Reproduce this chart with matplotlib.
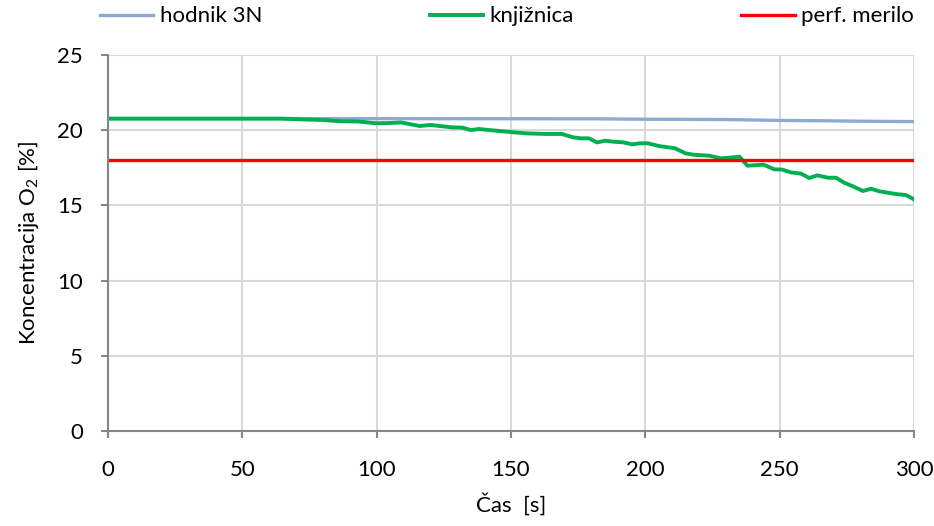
import matplotlib
matplotlib.use("Agg")
import matplotlib.pyplot as plt

plt.rcParams['font.family'] = ['Lato', 'DejaVu Sans']
plt.rcParams['mathtext.fontset'] = 'custom'
plt.rcParams['mathtext.rm'] = 'Lato'
plt.rcParams['mathtext.it'] = 'Lato'

# hodnik 3N
cas_hodnik = [0, 100, 180, 200, 230, 240, 250, 265, 280, 300]
o2_hodnik = [20.77, 20.77, 20.76, 20.73, 20.71, 20.68, 20.65, 20.63, 20.6, 20.57]

# knjiznica
cas_knj = [0, 65, 72, 80, 86, 93, 100, 105, 109, 116, 120, 128, 132, 135, 138, 142,
           151, 156, 163, 169, 173, 176, 179, 182, 185, 188, 192, 195, 198, 201,
           205, 211, 215, 218, 224, 228, 231, 235, 238, 244, 248, 251, 254, 258,
           261, 264, 268, 271, 274, 277, 281, 284, 287, 290, 294, 297, 300]
o2_knj = [20.77, 20.77, 20.72, 20.68, 20.6, 20.58, 20.46, 20.48, 20.52, 20.28, 20.35,
          20.19, 20.17, 20.01, 20.08, 20.01, 19.86, 19.79, 19.75, 19.75, 19.53, 19.46,
          19.46, 19.19, 19.3, 19.24, 19.19, 19.06, 19.13, 19.13, 18.95, 18.8, 18.46,
          18.37, 18.3, 18.13, 18.17, 18.24, 17.64, 17.71, 17.4, 17.38, 17.2, 17.11,
          16.82, 17.0, 16.84, 16.84, 16.51, 16.29, 15.96, 16.11, 15.94, 15.85, 15.74,
          15.69, 15.4]

# perf. merilo
cas_meja = [0, 300]
o2_meja = [18, 18]

fig = plt.figure(figsize=(9.34, 5.26), dpi=100)
ax = fig.add_axes([0.1156, 0.1806, 0.863, 0.7148])

ax.plot(cas_hodnik, o2_hodnik, color='#8EA9D4', lw=2.4, label='hodnik 3N')
ax.plot(cas_knj, o2_knj, color='#00B050', lw=2.8, label='knjižnica')
ax.plot(cas_meja, o2_meja, color='#FF0000', lw=2.4, label='perf. merilo')

ax.set_xlim(0, 300)
ax.set_ylim(0, 25)
ax.set_xticks(range(0, 301, 50))
ax.set_yticks(range(0, 26, 5))
ax.grid(True, color='#D9D9D9', lw=1.5)
ax.set_axisbelow(True)

for s in ['top', 'right']:
    ax.spines[s].set_visible(False)
for s in ['left', 'bottom']:
    ax.spines[s].set_color('#868686')
    ax.spines[s].set_linewidth(1.5)

ax.tick_params(axis='both', colors='#868686', length=5, width=1.5,
               labelsize=16, labelcolor='black')
ax.tick_params(axis='y', pad=13)
ax.tick_params(axis='x', pad=16)

ax.set_xlabel('Čas  [s]', fontsize=16, labelpad=9)
ax.set_ylabel('Koncentracija O$_2$ [%]', fontsize=16, labelpad=12)

ax.legend(loc='center left', bbox_to_anchor=(-0.0099, 1.103, 1.01, 0.0),
          ncol=3, mode='expand', frameon=False, fontsize=16,
          handlelength=2.4, handletextpad=0.3, borderaxespad=0, borderpad=0)

fig.savefig('out.png', dpi=100)
